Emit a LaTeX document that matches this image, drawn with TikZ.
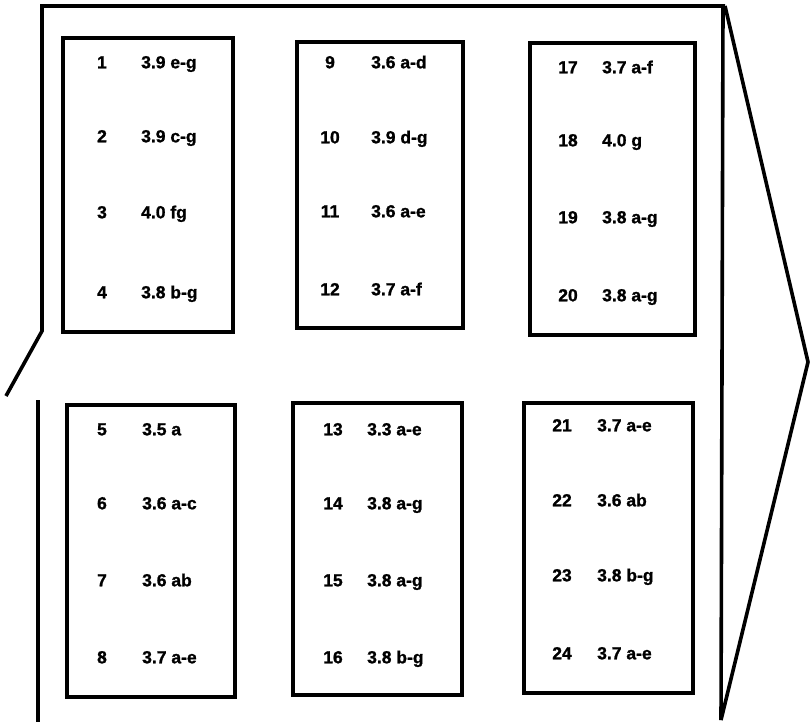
\documentclass[tikz,border=0pt]{standalone}
\usepackage{fontspec}
\setmainfont{Liberation Sans}
\newfontfamily\lblfont[FakeBold=1.2]{Liberation Sans}
\begin{document}
\begin{tikzpicture}[x=1pt,y=-1pt,
  frame/.style={line width=3.6pt,line join=miter,line cap=butt},
  panel/.style={draw,line width=3.6pt,inner sep=0pt},
  lbl/.style={font=\lblfont\fontsize{17.5}{17.5}\selectfont\bfseries,inner sep=0pt,text height=12.6pt,text depth=0pt},
  num/.style={lbl,anchor=center},
  val/.style={lbl,anchor=west}]
\useasboundingbox (0,0) rectangle (810,722);
% outer frame
\coordinate (tl) at (42,6);
\coordinate (tr) at (725,6);
\coordinate (lk) at (42,331);
\coordinate (lf) at (6,396);
\coordinate (lb1) at (38,400);
\coordinate (lb2) at (38,722);
\coordinate (rb) at (721,720);
\coordinate (tip) at (808,362);
\draw[frame] (lf) -- (lk) -- (tl) -- (tr);
\draw[frame] (lb1) -- (lb2);
\draw[frame] (723,6) -- (rb);
\draw[frame] (tr) -- (tip) -- (rb);
% panels
\node[panel,minimum width=170pt,minimum height=294pt] (p1) at (148,185) {};
\node[panel,minimum width=166pt,minimum height=286pt] (p2) at (380,185) {};
\node[panel,minimum width=165pt,minimum height=292pt] (p3) at (612.5,189) {};
\node[panel,minimum width=168pt,minimum height=292pt] (p4) at (151,551) {};
\node[panel,minimum width=169pt,minimum height=292pt] (p5) at (377.5,549) {};
\node[panel,minimum width=169pt,minimum height=290pt] (p6) at (608.5,548) {};
% labels
\foreach \n/\v/\x/\xv/\y in {1/3.9 e-g/102/141/62, 2/3.9 c-g/102/141/136, 3/4.0 fg/102/141/212, 4/3.8 b-g/102/141/292,
  9/3.6 a-d/330/371/62, 10/3.9 d-g/330/371/137, 11/3.6 a-e/330/371/211, 12/3.7 a-f/330/371/289,
  17/3.7 a-f/568/602/67, 18/4.0 g/568/602/140, 19/3.8 a-g/568/602/217, 20/3.8 a-g/568/602/295,
  5/3.5 a/102/142/429, 6/3.6 a-c/102/142/503, 7/3.6 ab/102/142/580, 8/3.7 a-e/102/142/657,
  13/3.3 a-e/333/367/429, 14/3.8 a-g/333/367/503, 15/3.8 a-g/333/367/580, 16/3.8 b-g/333/367/657,
  21/3.7 a-e/562/597/425, 22/3.6 ab/562/597/500, 23/3.8 b-g/562/597/575, 24/3.7 a-e/562/597/653}
{
  \node[num] (n\n) at (\x,\y) {\n};
  \node[val] (v\n) at (\xv,\y) {\v};
}
\end{tikzpicture}
\end{document}
